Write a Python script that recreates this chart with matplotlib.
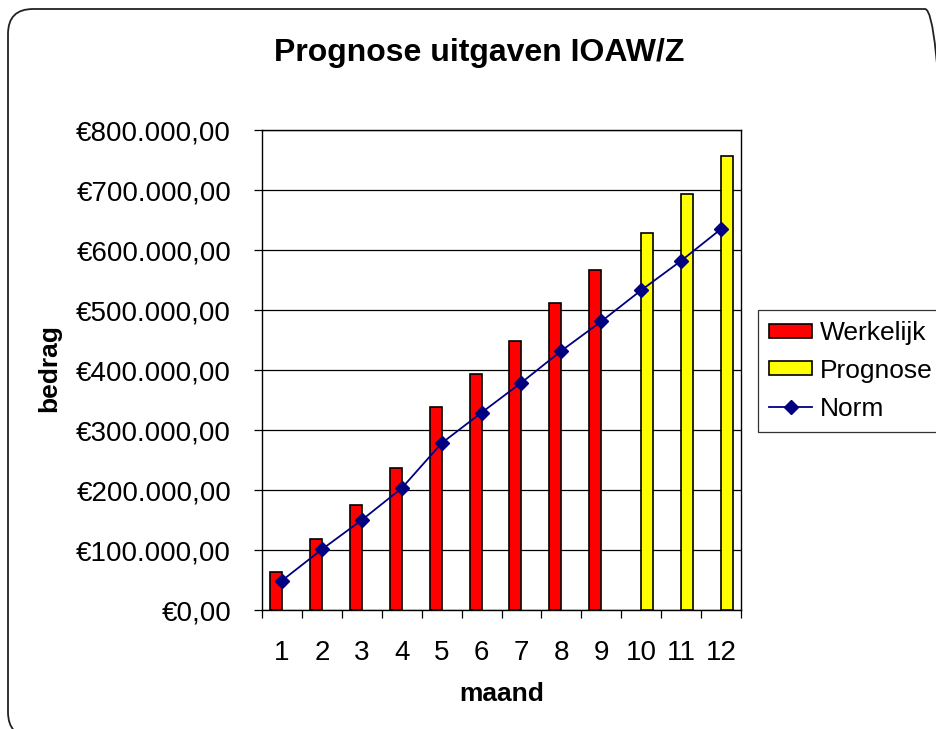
import matplotlib
matplotlib.use("Agg")
import matplotlib.pyplot as plt
from matplotlib.patches import FancyBboxPatch, Patch
from matplotlib.lines import Line2D
from matplotlib.ticker import FixedLocator, FuncFormatter
import numpy as np

plt.rcParams['font.family'] = ['Liberation Sans', 'DejaVu Sans']

months = [1, 2, 3, 4, 5, 6, 7, 8, 9, 10, 11, 12]
werkelijk_months = [1, 2, 3, 4, 5, 6, 7, 8, 9]
werkelijk = [63000, 118000, 175000, 236000, 338000, 393000, 448000, 511000, 566000]
prognose_months = [10, 11, 12]
prognose = [629000, 693000, 756000]
norm = [49000, 101000, 150000, 203000, 278000, 329000, 379000, 432000, 481000, 533000, 582000, 635000]
yticks = [0, 100000, 200000, 300000, 400000, 500000, 600000, 700000, 800000]

W, H = 936, 729
fig = plt.figure(figsize=(W / 100, H / 100), dpi=100)

# rounded outer border (partly outside the image)
border = FancyBboxPatch((0.08, -0.08), 9.42, 7.28,
                        boxstyle="round,pad=0,rounding_size=0.25",
                        transform=fig.dpi_scale_trans, fill=False,
                        edgecolor='#222222', linewidth=1.3, clip_on=False)
fig.patches.append(border)

ax = fig.add_axes([262 / W, 1 - 610 / H, 479 / W, 480 / H])

bw = 0.3
xw = np.array([m - 1 for m in werkelijk_months]) - bw / 2
xp = np.array([m - 1 for m in prognose_months]) + bw / 2
ax.bar(xw, werkelijk, width=bw, color='#FF0000', edgecolor='black', linewidth=1.2, zorder=3)
ax.bar(xp, prognose, width=bw, color='#FFFF00', edgecolor='black', linewidth=1.2, zorder=3)
ax.plot(np.array(months) - 1, norm, color='#000080', linewidth=1.3, marker='D',
        markersize=7, markerfacecolor='#000080', markeredgecolor='#000080', zorder=4)

ax.set_xlim(-0.5, 11.5)
ax.set_ylim(0, 800000)
ax.set_yticks(yticks)
ax.yaxis.set_major_formatter(FuncFormatter(
    lambda v, p: "€" + f"{int(v):,}".replace(",", ".") + ",00"))
ax.grid(axis='y', color='black', linewidth=0.9, zorder=1)
ax.tick_params(axis='y', direction='out', length=5.8, width=0.9, pad=16.5, labelsize=20)

ax.set_xticks(np.array(months) - 1)
ax.set_xticklabels([str(m) for m in months])
ax.xaxis.set_minor_locator(FixedLocator(np.arange(-0.5, 12, 1)))
ax.tick_params(axis='x', which='major', length=0, pad=21.5, labelsize=20)
ax.tick_params(axis='x', which='minor', direction='out', length=5.8, width=0.9)

for s in ax.spines.values():
    s.set_color('black')
    s.set_linewidth(1.0)

fig.text(479 / W, 1 - 53 / H, "Prognose uitgaven IOAW/Z", ha='center', va='center',
         fontsize=23, fontweight='bold')
fig.text(49 / W, 1 - 368 / H, "bedrag", ha='center', va='center', rotation=90,
         fontsize=19, fontweight='bold')
fig.text(502 / W, 1 - 694 / H, "maand", ha='center', va='center',
         fontsize=19, fontweight='bold')

handles = [Patch(facecolor='#FF0000', edgecolor='black', linewidth=1.2),
           Patch(facecolor='#FFFF00', edgecolor='black', linewidth=1.2),
           Line2D([], [], color='#000080', linewidth=1.3, marker='D', markersize=7)]
leg = fig.legend(handles, ["Werkelijk", "Prognose", "Norm"], loc='upper left',
                 bbox_to_anchor=(758 / W, 1 - 310 / H), borderaxespad=0,
                 fontsize=19, frameon=True, fancybox=False, edgecolor='black',
                 handlelength=1.63, handleheight=0.45, handletextpad=0.3,
                 labelspacing=0.52, borderpad=0.42, numpoints=1)
leg.get_frame().set_linewidth(0.9)

fig.savefig("out.png", dpi=100)
